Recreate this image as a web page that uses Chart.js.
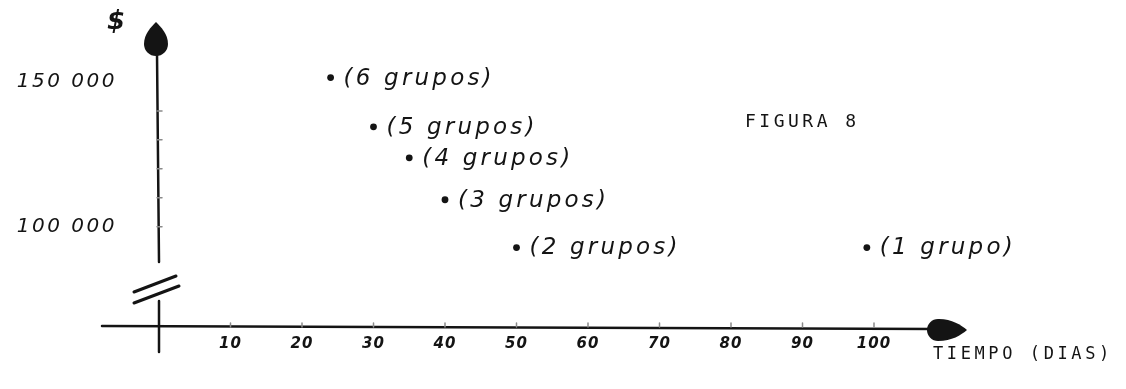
<!DOCTYPE html>
<html lang="es">
<head>
<meta charset="utf-8">
<title>Figura 8</title>
<script src="https://cdn.jsdelivr.net/npm/chart.js@4/dist/chart.umd.min.js"></script>
<style>
    html, body { margin: 0; padding: 0; background: #ffffff; }
    #figura { display: block; }
</style>
</head>
<body>
<canvas id="figura" width="1126" height="389"></canvas>
<script>
// datos
const diasTicks = [10, 20, 30, 40, 50, 60, 70, 80, 90, 100];
const costoTicks = [110000, 120000, 130000, 140000];
const costoLabelValues = [150000, 100000];
const costoLabelText = ['150 000', '100 000'];
const grupos = ['(6 grupos)', '(5 grupos)', '(4 grupos)', '(3 grupos)', '(2 grupos)', '(1 grupo)'];
const dias = [24, 30, 35, 40, 50, 99];
const costos = [151500, 134500, 123800, 109300, 92800, 92800];

const ink = '#141414';
const handFont = "'DejaVu Sans', sans-serif";
const typeFont = "'DejaVu Sans Mono', monospace";

function drawText(ctx, text, px, py, font, align, spacing) {
    ctx.save();
    ctx.font = font;
    ctx.fillStyle = ink;
    ctx.textAlign = align;
    ctx.textBaseline = 'middle';
    ctx.letterSpacing = (spacing || 0) + 'px';
    ctx.fillText(text, px, py);
    ctx.restore();
}

const sketchPlugin = {
    id: 'sketch',
    afterDatasetsDraw(chart) {
        const { ctx, scales: { x, y } } = chart;
        const x0 = x.getPixelForValue(0);
        const axisY = y.bottom - 1;

        ctx.save();
        ctx.strokeStyle = ink;
        ctx.fillStyle = ink;
        ctx.lineCap = 'round';
        ctx.lineWidth = 2.5;

        // eje vertical (con corte)
        ctx.beginPath();
        ctx.moveTo(x0 - 2, y.top);
        ctx.lineTo(x0, axisY - 65);
        ctx.moveTo(x0, axisY - 26);
        ctx.lineTo(x0, axisY + 25);
        ctx.stroke();

        ctx.lineWidth = 3;
        ctx.beginPath();
        ctx.moveTo(x0 - 25, axisY - 35);
        ctx.lineTo(x0 + 17, axisY - 51);
        ctx.moveTo(x0 - 25, axisY - 24);
        ctx.lineTo(x0 + 20, axisY - 41);
        ctx.stroke();

        // flecha vertical
        const ax = x0 - 3, tip = y.top - 31;
        ctx.beginPath();
        ctx.moveTo(ax, tip);
        ctx.bezierCurveTo(ax - 5, tip + 5, ax - 12, tip + 12, ax - 12, tip + 22);
        ctx.arc(ax, tip + 22, 12, Math.PI, 0, true);
        ctx.bezierCurveTo(ax + 12, tip + 12, ax + 5, tip + 5, ax, tip);
        ctx.fill();

        // eje horizontal
        ctx.lineWidth = 2.5;
        ctx.beginPath();
        ctx.moveTo(x0 - 57, axisY - 1);
        ctx.lineTo(x.right + 60, axisY + 2);
        ctx.stroke();

        // flecha horizontal
        const hx = x.right + 93, hy = axisY + 3;
        ctx.beginPath();
        ctx.moveTo(hx, hy);
        ctx.bezierCurveTo(hx - 6, hy - 5, hx - 15, hy - 11, hx - 28, hy - 11);
        ctx.arc(hx - 29, hy, 11, -Math.PI / 2, Math.PI / 2, true);
        ctx.bezierCurveTo(hx - 15, hy + 11, hx - 6, hy + 5, hx, hy);
        ctx.fill();

        // marcas de escala
        ctx.strokeStyle = '#8a8a8a';
        ctx.lineWidth = 1.5;
        ctx.beginPath();
        diasTicks.forEach(d => {
            const px = x.getPixelForValue(d);
            ctx.moveTo(px, axisY - 4);
            ctx.lineTo(px, axisY);
        });
        costoTicks.concat([100000]).forEach(c => {
            const py = y.getPixelForValue(c);
            ctx.moveTo(x0 - 2, py);
            ctx.lineTo(x0 + 3, py);
        });
        ctx.stroke();
        ctx.restore();

        // etiquetas de los ejes
        diasTicks.forEach(d => {
            drawText(ctx, String(d), x.getPixelForValue(d), axisY + 17, 'bold italic 15px ' + handFont, 'center', 1);
        });
        costoLabelValues.forEach((c, i) => {
            drawText(ctx, costoLabelText[i], 117, y.getPixelForValue(c), 'italic 20px ' + handFont, 'right', 2.5);
        });
        drawText(ctx, '$', 116, 22, 'bold italic 26px ' + handFont, 'center', 0);

        // etiquetas de los puntos
        const meta = chart.getDatasetMeta(0);
        meta.data.forEach((pt, i) => {
            drawText(ctx, grupos[i], pt.x + 13, pt.y + 1, 'italic 23px ' + handFont, 'left', 3.2);
        });

        drawText(ctx, 'FIGURA 8', 745, 122, '18px ' + typeFont, 'left', 3.5);
        drawText(ctx, 'TIEMPO (DIAS)', 933, 355, '17px ' + typeFont, 'left', 3.6);
    }
};

const chart = new Chart(document.getElementById('figura'), {
    type: 'scatter',
    data: {
        datasets: [{
            label: 'Costo',
            data: dias.map((d, i) => ({ x: d, y: costos[i] })),
            pointRadius: 3.4,
            pointBackgroundColor: ink,
            pointBorderColor: ink,
            borderWidth: 0,
            clip: false
        }]
    },
    options: {
        responsive: false,
        animation: false,
        layout: {
            padding: { left: 159, right: 252, top: 53, bottom: 61 }
        },
        plugins: {
            legend: { display: false },
            tooltip: { enabled: false }
        },
        scales: {
            x: { type: 'linear', min: 0, max: 100, display: false },
            y: { type: 'linear', min: 65000, max: 160000, display: false }
        }
    },
    plugins: [sketchPlugin]
});
</script>
</body>
</html>
